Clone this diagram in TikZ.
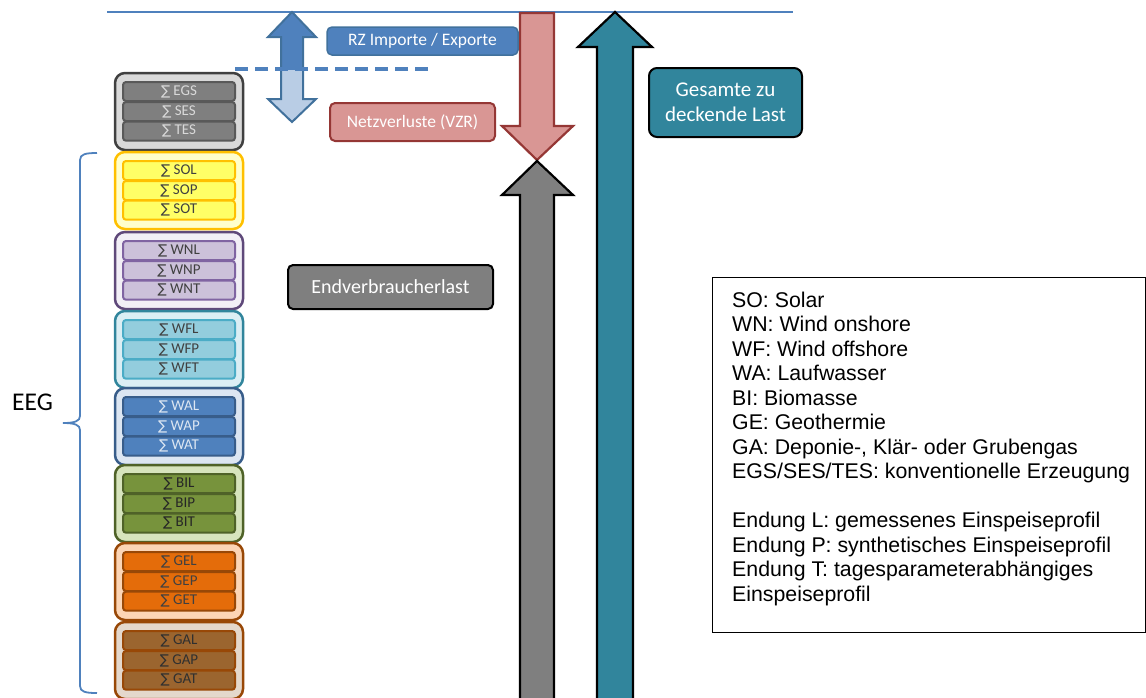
\documentclass[tikz,border=0pt]{standalone}
\usepackage{fontspec}
\setmainfont{Carlito}
\newfontfamily\arialf{Liberation Sans}
\newfontfamily\dvs{DejaVu Sans}
\definecolor{lblue}{HTML}{4F81BD}
\definecolor{dblue}{HTML}{41719C}
\definecolor{pblue}{HTML}{B9CDE5}
\definecolor{rosef}{HTML}{D99694}
\definecolor{rosed}{HTML}{953735}
\definecolor{greyf}{HTML}{7F7F7F}
\definecolor{tealf}{HTML}{31859C}
% group colours
\definecolor{gAo}{HTML}{D9D9D9}\definecolor{gAd}{HTML}{404040}\definecolor{gAi}{HTML}{7F7F7F}\definecolor{gAj}{HTML}{595959}\definecolor{gAt}{HTML}{D9D9D9}
\definecolor{gBo}{HTML}{FFFFCC}\definecolor{gBd}{HTML}{FFC000}\definecolor{gBi}{HTML}{FFFF66}\definecolor{gBj}{HTML}{FFC000}\definecolor{gBt}{HTML}{404040}
\definecolor{gCo}{HTML}{F2EFF6}\definecolor{gCd}{HTML}{5F497A}\definecolor{gCi}{HTML}{CCC1DA}\definecolor{gCj}{HTML}{8064A2}\definecolor{gCt}{HTML}{404040}
\definecolor{gDo}{HTML}{DBEEF4}\definecolor{gDd}{HTML}{31859C}\definecolor{gDi}{HTML}{93CDDD}\definecolor{gDj}{HTML}{4BACC6}\definecolor{gDt}{HTML}{404040}
\definecolor{gEo}{HTML}{DCE6F2}\definecolor{gEd}{HTML}{385D8A}\definecolor{gEi}{HTML}{4F81BD}\definecolor{gEj}{HTML}{385D8A}\definecolor{gEt}{HTML}{DCE6F2}
\definecolor{gFo}{HTML}{D7E4BD}\definecolor{gFd}{HTML}{4F6228}\definecolor{gFi}{HTML}{77933C}\definecolor{gFj}{HTML}{4F6228}\definecolor{gFt}{HTML}{262626}
\definecolor{gGo}{HTML}{FCD5B5}\definecolor{gGd}{HTML}{984807}\definecolor{gGi}{HTML}{E46C0A}\definecolor{gGj}{HTML}{984807}\definecolor{gGt}{HTML}{404040}
\definecolor{gHo}{HTML}{E4D8CC}\definecolor{gHd}{HTML}{984807}\definecolor{gHi}{HTML}{9B652F}\definecolor{gHj}{HTML}{984807}\definecolor{gHt}{HTML}{303030}
\tikzset{
  outerbox/.style={rounded corners=10pt, line width=2.5pt, minimum width=128pt, minimum height=77pt, inner sep=0pt},
  rowbox/.style={rounded corners=3pt, line width=2pt, minimum width=112pt, minimum height=19pt, inner sep=0pt, font=\fontsize{15}{15}\selectfont},
  labelbox/.style={rounded corners=5pt, inner sep=0pt, text=white, align=center},
  legline/.style={anchor=base west, inner sep=0pt, font=\arialf\fontsize{21.3}{24.5}\selectfont},
  blockarrow/.style={line width=2.2pt, line join=miter},
}
\newcommand{\sumg}{{\dvs\fontsize{13.5}{13.5}\selectfont ∑}}
\begin{document}
\begin{tikzpicture}[x=1pt,y=-1pt]
\useasboundingbox (0,0) rectangle (1146,697);
\clip (0,0) rectangle (1146,697);
% top line
\draw[lblue, line width=2.2pt] (107,12) -- (793,12);
% groups
\foreach \t/\a/\b/\c/\k [count=\i] in {
 73/EGS/SES/TES/A, 152/SOL/SOP/SOT/B, 232/WNL/WNP/WNT/C, 311/WFL/WFP/WFT/D,
 388/WAL/WAP/WAT/E, 465/BIL/BIP/BIT/F, 543/GEL/GEP/GET/G, 622/GAL/GAP/GAT/H}{
  \node[outerbox, fill=g\k o, draw=g\k d] (grp\i) at (179,\t+38.5) {};
  \node[rowbox, fill=g\k i, draw=g\k j, text=g\k t] (grp\i a) at (179,\t+18.5) {\sumg\ \a};
  \node[rowbox, fill=g\k i, draw=g\k j, text=g\k t] (grp\i b) at (179,\t+38.5) {\sumg\ \b};
  \node[rowbox, fill=g\k i, draw=g\k j, text=g\k t] (grp\i c) at (179,\t+58.2) {\sumg\ \c};
}
% EEG brace
\draw[lblue, line width=1.8pt] (97,153) .. controls (86,153) and (80,154) .. (80,160) -- (80,416)
  .. controls (80,421) and (75,423) .. (63,423) .. controls (75,423) and (80,425) .. (80,430)
  -- (80,686) .. controls (80,692) and (86,693) .. (97,693);
\node[font=\fontsize{25.5}{25.5}\selectfont, inner sep=0pt] (eeg) at (32.5,402) {EEG};
% double arrow import/export
\path[fill=pblue] (292,12) -- (316,37) -- (303,37) -- (303,99) -- (316,99) -- (292,122) -- (268,99) -- (281,99) -- (281,37) -- (268,37) -- cycle;
\begin{scope}
  \clip (250,0) rectangle (330,69);
  \path[fill=lblue] (292,12) -- (316,37) -- (303,37) -- (303,99) -- (316,99) -- (292,122) -- (268,99) -- (281,99) -- (281,37) -- (268,37) -- cycle;
\end{scope}
\draw[dblue, line width=2pt, line join=miter] (292,12) -- (316,37) -- (303,37) -- (303,99) -- (316,99) -- (292,122) -- (268,99) -- (281,99) -- (281,37) -- (268,37) -- cycle;
\draw[lblue, line width=4pt, dash pattern=on 13pt off 7pt] (235,69) -- (433,69);
% red arrow (losses)
\draw[blockarrow, fill=rosef, draw=rosed] (520,13) -- (554,13) -- (554,126) -- (573,126) -- (537,160) -- (502,126) -- (520,126) -- cycle;
% grey arrow
\draw[blockarrow, fill=greyf, draw=black] (537,161) -- (573,195) -- (554,195) -- (554,710) -- (520,710) -- (520,195) -- (502,195) -- cycle;
% teal arrow
\draw[blockarrow, fill=tealf, draw=black] (615,12) -- (652,47) -- (633,47) -- (633,710) -- (597,710) -- (597,47) -- (578,47) -- cycle;
% labels
\node[labelbox, fill=lblue, draw=dblue, line width=1.5pt, minimum width=191pt, minimum height=28pt, font=\fontsize{17.5}{17.5}\selectfont] (rz) at (422.5,41) {RZ Importe / Exporte};
\node[labelbox, fill=rosef, draw=rosed, line width=2pt, minimum width=165pt, minimum height=38pt, font=\fontsize{17.5}{17.5}\selectfont] (nv) at (412.5,122) {Netzverluste (VZR)};
\node[labelbox, fill=greyf, draw=black, line width=2pt, minimum width=205pt, minimum height=44pt, font=\fontsize{20}{20}\selectfont] (ev) at (390.5,287) {Endverbraucherlast};
\node[labelbox, fill=tealf, draw=black, line width=2pt, rounded corners=8pt, minimum width=153pt, minimum height=69pt, font=\fontsize{21}{25}\selectfont] (gl) at (725.5,102.5) {Gesamte zu\\deckende Last};
% legend
\node[draw=black, line width=1pt, minimum width=433pt, minimum height=355pt, inner sep=0pt, anchor=north west] (leg) at (712,277) {};
\foreach \l [count=\j from 0] in {SO: Solar, WN: Wind onshore, WF: Wind offshore, WA: Laufwasser, BI: Biomasse, GE: Geothermie, {GA: Deponie-, Klär- oder Grubengas}, EGS/SES/TES: konventionelle Erzeugung, {}, Endung L: gemessenes Einspeiseprofil, Endung P: synthetisches Einspeiseprofil, Endung T: tagesparameterabhängiges, Einspeiseprofil}{
  \node[legline] (leg\j) at (732,307+24.5*\j) {\l};
}
\end{tikzpicture}
\end{document}
